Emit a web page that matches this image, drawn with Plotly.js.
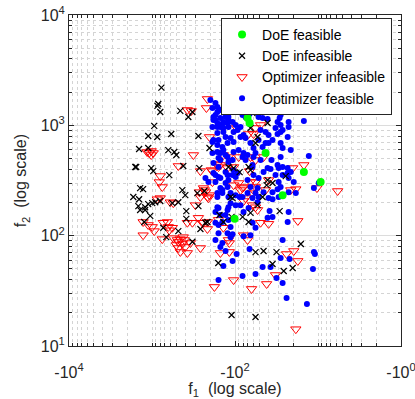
<!DOCTYPE html>
<html><head><meta charset="utf-8">
<script src="https://cdn.plot.ly/plotly-3.0.1.min.js"></script>
<style>html,body{margin:0;padding:0;background:#fff}#chart{width:415px;height:399px}</style>
</head><body><div id="chart"></div>
<script>
// ---- data (f1 is negative, f2 positive) ----
const doeFeasF1 = [-70.6, -66.8, -42.8, -14.8, -9.3, -26.7, -101];
const doeFeasF2 = [1166, 1050, 561, 377, 306, 233, 142];

const doeInfF1 = [-770,-860,-840,-795,-456,-365,-326,-940,-1110,-864,
-586,-276,-1430,-1110,-636,-539,-509,-1590,-1550,-1020,
-966,-619,-420,-269,-1390,-1280,-431,-397,-284,-1680,
-1430,-1460,-1390,-1210,-1210,-1110,-993,-914,-795,-1050,
-1240,-569,-482,-386,-386,-731,-482,-673,-326,-261,
-234,-276,
-104,-61.5,-40.5,-65,-53.5,-56.6,-203,-104,-68.6,-88,
-120,-65,-24.5,-40.5,-35.3,-41.6,-113,-46.5,-107,-215,
-154,-110,-81,-68.6,-138,-227,-53.5,-29,-65,-16.1,
-56.6,-45.3,-31.6,-35.3,-25.9,-20.2,-159,-110,-56.6];
const doeInfF2 = [2200,1500,1560,1320,1350,1190,1320,990,800,784,
834,800,610,623,597,573,538,419,419,410,
385,354,428,410,270,264,259,233,243,224,
214,185,171,181,171,193,197,201,206,151,
133,197,201,167,142,118,110,97,88,115,
254,185,
1730,1290,1050,946,784,691,623,410,419,377,
419,393,347,319,300,287,224,224,219,133,
154,148,148,133,133,131,189,167,161,84,
71,72.6,71,55.4,47.8,50.9,56.5,19.1,18.3];

const optInfF1 = [-375,-336,-1144,-1083,-1022,-966,-1022,-317,-482,-795,
-818,-752,-240,-203,-864,-795,-602,-554,-300,-269,
-215,-1279,-1112,-993,-940,-1279,-731,-654,-636,-569,
-619,-752,-554,-495,-482,-456,-431,-482,-456,-375,
-345,-397,-375,-326,-276,-247,-215,-261,-420,-509,
-408,
-215,-221,-104,-16.1,-95.6,-49.2,-68.6,-59.8,-56.6,-203,
-138,-90.4,-65,-120,-163,-150,-123,-193,-104,-45.3,
-56.6,-20.2,-14.8,-261,-187,-158,-66.8,-39.4,-56.6,-65,
-90.4,-81.2,-61.5,-104,-187,-234,-227,-261,-209,-78.9,
-85.8,-61.5,-42.8,-56.6,-21.3,-18.5,-10.3,-5.8,-74.6,-56.6,
-53.5,-78.9,-61.5,
-215,-240,-158,-138,-120,-78.9,-70.6,-117,-117,-150,
-49.2,-39.4,-17.5,-23.9,-19.6,-17.5,-32.5,-41.6,-63.2,-104,-177,-18.5];
const optInfF2 = [1378,1349,573,561,538,561,585,538,428,347,
306,276,270,233,214,219,201,197,189,248,
224,133,125,120,110,101,131,133,120,118,
112,93,95,91.4,87.7,93,84.1,77.3,71.2,69.7,
85.8,79,131,131,145,131,133,77.3,97,82.3,
91.4,
1733,1436,1698,1467,946,1007,834,834,946,784,
538,516,516,516,446,437,410,393,419,516,
485,410,437,385,385,419,385,319,306,306,
300,270,264,287,306,259,248,224,219,276,
259,243,259,276,259,264,270,254,219,181,
171,206,189,
115,131,139,118,91.4,101,91.4,85.8,71.2,69.7,
131,128,136,68.2,72.6,59,44,36.5,32.9,39.6,34.3,14.2];

const optFeasF1 = [-198,-187,-172,-163,-163,-172,-182,-150,-182,-172,
-150,-187,-163,-150,-130,-120,-138,-120,-107,-123,
-142,-120,-138,-163,-138,-163,-104,-93,-85.8,-98.3,
-81.2,-74.6,-76.8,-66.8,-61.5,-81.2,-50.6,-52,-46.5,-40.5,
-29.8,-28.2,-30.7,-28.2,-29,-30.7,-28.2,-22.6,-22.6,-14.8,
-32.5,-26.7,-28.2,-30.7,-23.2,-42.8,-49.2,-78.9,-85.8,-182,
-158,-130,-113,-104,-187,-163,-142,-123,-187,-163,
-150,-138,-130,-150,-158,-123,-104,-107,-120,-182,
-158,-104,-81.2,-70.6,-59.8,-74.6,-65,-59.8,-56.6,-74.6,
-61.5,-90.4,-78.9,-49.2,-61.5,-39.4,-39.4,-35.3,-52,-46.5,
-42.8,-28.2,-26.7,-21.3,-12.9,-36.3,-30.7,-26.7,-23.2,-28.2,
-40.5,-45.3,-37.3,-29.8,-21.3,-23.2,-59.8,-52,-26.7,-32.5,
-227,-209,-172,-158,-130,-123,-107,-93,-182,-120,
-130,-150,-142,-120,-98.3,-98.3,-150,-172,-123,-113,
-163,-81.2,-70.6,-65,-53.5,-45.3,-35.3,-28.2,-29.8,-22.6,
-19.6,-9.8,-30.7,-22.6,-18.5,-11.2,-52,-39.4,-35.3,-56.6,
-29.8,-70.6,-88,-163,-142,-120,-158,-172,-150,-130,
-120,-142,-158,-98.3,-78.9,-68.6,-53.5,-61.5,-56.6,-123,
-163,-113,-85.8,-61.5,-38.3,-35.3,-23.2,-22.6,-40.5,-172,
-113,-158,-123,-107,-78.9,-172,-142,-150,-113,-65,
-130,-95.6,-107,-138,-66.8,-26.7,-28.2,-22,-46.5,-37.3,
-56.6,-31.6,-26.7,-11.2,-10.9,-11.5,-23.9,-13.6,-81.2,-158];
const optFeasF2 = [1698,1436,1594,1467,1321,1241,1190,1378,1118,1118,
1166,966,1050,966,1190,1190,1072,1118,1072,1050,
1028,966,946,966,870,852,870,907,966,1007,
1241,1190,1321,1267,1733,1530,1498,1190,1166,1142,
1594,1467,1378,1241,1166,1072,1007,1072,966,1095,
946,907,870,834,784,870,907,817,784,736,
736,784,767,706,706,663,636,691,561,573,
561,597,538,485,505,516,573,485,465,455,
419,393,516,538,516,767,691,623,561,485,
437,597,561,485,419,817,691,736,736,636,
691,691,623,597,527,485,437,419,410,516,
410,377,402,410,377,369,354,333,354,354,
333,306,354,340,377,354,354,369,369,319,
300,270,243,224,233,340,333,306,276,243,
224,224,319,276,270,248,248,276,306,333,
306,300,264,248,243,270,224,219,214,243,
224,243,224,243,259,181,178,164,154,154,
139,133,125,189,164,178,201,131,118,171,
181,197,189,219,167,148,133,164,145,131,
120,105,105,103,99,91.4,85.8,79,97,101,
72.6,68.2,59,53.1,75.7,91.4,62.8,61.5,52,52,
44.9,41.3,37.2,71.2,68.2,49.9,27.2,24,43.1,39.6];

const xTickVals = [1e4, 1e2, 1];
const xTickText = ['-10<sup>4</sup>', '-10<sup>2</sup>', '-10<sup>0</sup>'];
const yTickVals = [10, 100, 1000, 10000];
const yTickText = ['10<sup>1</sup>', '10<sup>2</sup>', '10<sup>3</sup>', '10<sup>4</sup>'];
const xTitle = 'f<sub>1</sub>  (log scale)';
const yTitle = 'f<sub>2</sub>  (log scale)';

// ---- build ----
const neg = a => a.map(v => -v); // log axis of |f1|, labelled negative
function minorVals(k0, k1, includeDecades) {
  const out = [];
  for (let k = k0; k < k1; k++) {
    const b = Math.pow(10, k);
    if (includeDecades && k > k0) out.push(b);
    for (let m = 2; m <= 9; m++) out.push(m * b);
  }
  return out;
}
const FONT = '"Liberation Sans", Arial, Helvetica, sans-serif';
const AX = '#262626';

const traces = [
  {x: neg(optInfF1), y: optInfF2, name: 'Optimizer infeasible', mode: 'markers', type: 'scatter', legendrank: 3,
   marker: {symbol: 'triangle-down-open', size: 9, color: '#ff0000', line: {color: '#ff0000', width: 1}}},
  {x: neg(optFeasF1), y: optFeasF2, name: 'Optimizer feasible', mode: 'markers', type: 'scatter', legendrank: 4,
   marker: {symbol: 'circle', size: 6, color: '#0000ff', line: {width: 0}}},
  {x: neg(doeInfF1), y: doeInfF2, name: 'DoE infeasible', mode: 'markers', type: 'scatter', legendrank: 2,
   marker: {symbol: 'x-thin-open', size: 6, color: '#000000', line: {color: '#000000', width: 1.2}}},
  {x: neg(doeFeasF1), y: doeFeasF2, name: 'DoE feasible', mode: 'markers', type: 'scatter', legendrank: 1,
   marker: {symbol: 'circle', size: 8, color: '#00ff00', line: {width: 0}}}
];

const axisCommon = {
  type: 'log', showline: true, linecolor: AX, linewidth: 1, mirror: 'ticks',
  ticks: 'inside', ticklen: 5, tickcolor: AX, tickwidth: 1,
  showgrid: true, gridcolor: '#dcdcdc', gridwidth: 1, zeroline: false,
  tickfont: {family: FONT, size: 16, color: AX}, tickmode: 'array', ticklabeloverflow: 'allow'
};

const layout = {
  width: 415, height: 399,
  margin: {l: 69, r: 14, t: 15, b: 53, pad: 0},
  paper_bgcolor: '#fff', plot_bgcolor: '#fff',
  font: {family: FONT, size: 14, color: AX},
  showlegend: true,
  xaxis: Object.assign({}, axisCommon, {
    range: [4, 0], tickvals: xTickVals, ticktext: xTickText, ticklabelstandoff: 12,
    minor: {tickvals: minorVals(0, 4, true), ticks: 'inside', ticklen: 3, tickcolor: AX,
            showgrid: true, gridcolor: '#d4d4d4', griddash: 'dot', gridwidth: 1},
    title: {text: xTitle, font: {family: FONT, size: 16, color: AX}, standoff: 8}
  }),
  yaxis: Object.assign({}, axisCommon, {
    range: [1, 4], tickvals: yTickVals, ticktext: yTickText,
    minor: {tickvals: minorVals(1, 4, false), ticks: 'inside', ticklen: 3, tickcolor: AX,
            showgrid: true, gridcolor: '#d4d4d4', griddash: 'dot', gridwidth: 1}
  }),
  annotations: [
    {text: yTitle, xref: 'paper', yref: 'paper', x: -0.142, y: 0.5, xanchor: 'center', yanchor: 'middle',
     textangle: -90, showarrow: false, font: {family: FONT, size: 16, color: AX}}
  ],
  legend: {x: 0.973, y: 0.991, xanchor: 'right', yanchor: 'top', bgcolor: '#fff',
           bordercolor: AX, borderwidth: 1, font: {family: FONT, size: 14, color: '#000'},
           tracegroupgap: 0, itemwidth: 30}
};

Plotly.newPlot('chart', traces, layout, {displayModeBar: false, staticPlot: true});
</script>
</body></html>
